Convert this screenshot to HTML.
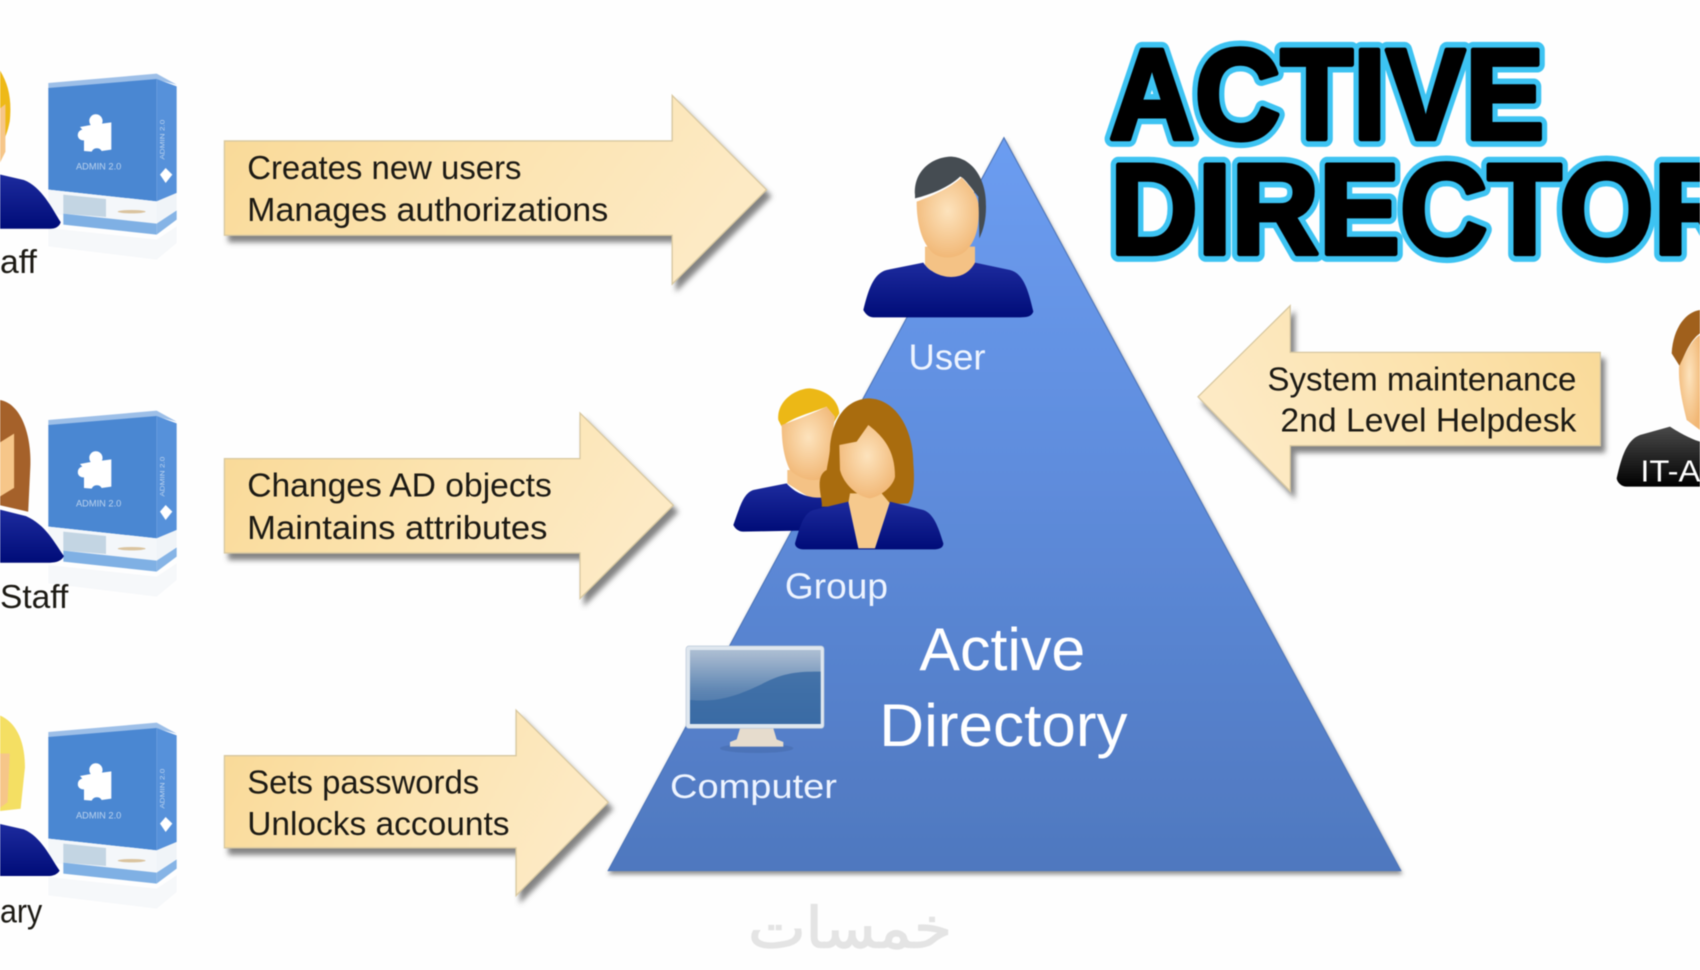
<!DOCTYPE html>
<html><head><meta charset="utf-8"><style>
html,body{margin:0;padding:0;background:#fff;width:1700px;height:970px;overflow:hidden}
svg{display:block;filter:blur(.6px)}
text{font-family:"Liberation Sans",sans-serif}
.t{font-size:31px;fill:#1c1a14}
</style></head><body>
<svg xmlns="http://www.w3.org/2000/svg" width="1700" height="970" viewBox="0 0 1700 970">
<defs>
<linearGradient id="ar" x1="0" y1="0" x2="1" y2="0.25"><stop offset="0" stop-color="#f9d996"/><stop offset=".5" stop-color="#fce3ae"/><stop offset="1" stop-color="#fdeac4"/></linearGradient>
<linearGradient id="ar2" x1="1" y1="0" x2="0" y2="0.25"><stop offset="0" stop-color="#f9d996"/><stop offset=".5" stop-color="#fce3ae"/><stop offset="1" stop-color="#fdeac4"/></linearGradient>
<linearGradient id="tri" x1="0" y1="0" x2="0" y2="1"><stop offset="0" stop-color="#6c9df1"/><stop offset=".45" stop-color="#5f8ddd"/><stop offset="1" stop-color="#4f78bf"/></linearGradient>
<linearGradient id="shirt" x1="0" y1="0" x2="0" y2="1"><stop offset="0" stop-color="#1d2b9e"/><stop offset="1" stop-color="#000c78"/></linearGradient>
<linearGradient id="dark" x1="0" y1="0" x2="0" y2="1"><stop offset="0" stop-color="#4a4a4a"/><stop offset="1" stop-color="#000"/></linearGradient>
<radialGradient id="skin" cx=".5" cy=".42" r=".6"><stop offset="0" stop-color="#fde3bd"/><stop offset="1" stop-color="#f1b775"/></radialGradient>
<linearGradient id="scr" x1="0" y1="0" x2="0" y2="1"><stop offset="0" stop-color="#aebfd3"/><stop offset=".55" stop-color="#5f86b3"/><stop offset="1" stop-color="#3c6ba3"/></linearGradient>
<filter id="sh" x="-10%" y="-10%" width="125%" height="130%"><feDropShadow dx="4" dy="6" stdDeviation="2.5" flood-color="#5c5c5c" flood-opacity=".75"/></filter>
<filter id="sh2" x="-5%" y="-5%" width="110%" height="110%"><feDropShadow dx="1" dy="3" stdDeviation="2" flood-color="#444" flood-opacity=".6"/></filter>
<g id="box">
  <path d="M145,90 L470,62 L530,95 L470,80 L145,108Z" fill="#9dbfe8"/>
  <path d="M145,105 L470,78 L470,445 L145,410Z" fill="#4a87d2"/>
  <path d="M470,78 L530,100 L530,420 L470,445Z" fill="#5691da"/>
  <path d="M145,410 L470,445 L470,512 L145,482Z" fill="#f4f7fa"/>
  <path d="M190,425 L318,438 L318,492 L190,482Z" fill="#c3d5e3"/>
  <path d="M190,482 L470,512 L470,545 L190,515Z" fill="#7fb0e4"/>
  <path d="M470,445 L530,420 L530,470 L470,512Z" fill="#f0f4f8"/>
  <path d="M470,512 L530,472 L530,500 L470,545Z" fill="#86b4e6"/>
  <ellipse cx="395" cy="476" rx="42" ry="5" fill="#c8a060" opacity=".6"/>
  <path d="M145,525 L470,560 L530,520 L530,570 L470,620 L145,580Z" fill="#e4eaf1" opacity=".3"/>
  <path d="M240,222 L272,216 A20,20 0 1 1 306,212 L334,208 L334,290 L305,294 A17,17 0 0 0 275,296 L252,294 L252,262 A15,15 0 1 1 247,230Z" fill="#fff"/>
  <text x="296" y="350" text-anchor="middle" font-size="28" fill="#bcd3ee" textLength="136" lengthAdjust="spacingAndGlyphs">ADMIN 2.0</text>
  <path d="M497,345 L517,365 L497,390 L480,365Z" fill="#fff"/>
  <text x="0" y="0" font-size="20" fill="#bcd3ee" transform="translate(494,320) rotate(-90)" textLength="120" lengthAdjust="spacingAndGlyphs">ADMIN 2.0</text>
</g>
</defs>
<rect width="1700" height="970" fill="#fefefe"/>

<!-- boxes -->
<use href="#box" transform="translate(0,53) scale(.3333)"/>
<use href="#box" transform="translate(0,390) scale(.3333)"/>
<use href="#box" transform="translate(0,702) scale(.3333)"/>

<!-- left persons -->
<g transform="scale(1.08418)">
  <path d="M0,65 C8,78 11,92 9,112 C7,122 4,130 0,134Z" fill="#eeb918"/>
  <path d="M0,100 L5,96 L5,140 L0,150Z" fill="#f6c689"/>
  <path d="M0,161 L22,166 C38,172 48,192 56,205 Q54,211 46,211 L0,211Z" fill="url(#shirt)"/>
  <path d="M0,369 C18,372 29,398 28,430 L26,472 L0,466Z" fill="#a5612a"/>
  <path d="M0,408 L13,400 L13,450 L0,458Z" fill="#f6c689"/>
  <path d="M0,470 L24,476 C42,484 50,500 59,513 Q56,519 46,519 L0,519Z" fill="url(#shirt)"/>
  <path d="M0,660 C14,666 23,682 23,708 L19,746 L0,748Z" fill="#f4df63"/>
  <path d="M0,695 L9,695 L7,740 L0,745Z" fill="#f6c689"/>
  <path d="M0,760 L22,765 C38,772 46,790 55,803 Q52,808 44,808 L0,808Z" fill="url(#shirt)"/>

  <!-- triangle -->
  <path d="M926,127 L1292,803 L561,803Z" fill="url(#tri)" filter="url(#sh2)" stroke="#4d74b8" stroke-width="1"/>

  <!-- arrows -->
  <path d="M207,130 L620,130 L620,88 L707,175 L620,262 L620,217 L207,217Z" fill="url(#ar)" stroke="#d8c8a0" stroke-width="1.2" filter="url(#sh)"/>
  <path d="M207,423 L535,423 L535,381 L621,466 L535,552 L535,510 L207,510Z" fill="url(#ar)" stroke="#d8c8a0" stroke-width="1.2" filter="url(#sh)"/>
  <path d="M207,697 L476,697 L476,655 L561,740 L476,826 L476,782 L207,782Z" fill="url(#ar)" stroke="#d8c8a0" stroke-width="1.2" filter="url(#sh)"/>
  <path d="M1476,325 L1190,325 L1190,282 L1105,366 L1190,453 L1190,411 L1476,411Z" fill="url(#ar2)" stroke="#d8c8a0" stroke-width="1.2" filter="url(#sh)"/>

  <!-- arrow text -->
  <text class="t" x="228" y="165" textLength="253" lengthAdjust="spacingAndGlyphs">Creates new users</text>
  <text class="t" x="228" y="204" textLength="333" lengthAdjust="spacingAndGlyphs">Manages authorizations</text>
  <text class="t" x="228" y="458" textLength="281" lengthAdjust="spacingAndGlyphs">Changes AD objects</text>
  <text class="t" x="228" y="497" textLength="277" lengthAdjust="spacingAndGlyphs">Maintains attributes</text>
  <text class="t" x="228" y="732" textLength="214" lengthAdjust="spacingAndGlyphs">Sets passwords</text>
  <text class="t" x="228" y="770" textLength="242" lengthAdjust="spacingAndGlyphs">Unlocks accounts</text>
  <text class="t" x="1169" y="360" textLength="285" lengthAdjust="spacingAndGlyphs">System maintenance</text>
  <text class="t" x="1181" y="398" textLength="273" lengthAdjust="spacingAndGlyphs">2nd Level Helpdesk</text>

  <!-- side labels -->
  <text class="t" x="0" y="252" textLength="34" lengthAdjust="spacingAndGlyphs">aff</text>
  <text class="t" x="0" y="561" textLength="63" lengthAdjust="spacingAndGlyphs">Staff</text>
  <text class="t" x="0" y="851" textLength="39" lengthAdjust="spacingAndGlyphs">ary</text>

  <!-- triangle labels -->
  <text x="838" y="341" font-size="33" fill="#eef4ff" textLength="71" lengthAdjust="spacingAndGlyphs">User</text>
  <text x="724" y="552" font-size="33" fill="#eef4ff" textLength="95" lengthAdjust="spacingAndGlyphs">Group</text>
  <text x="618" y="736" font-size="32" fill="#eef4ff" textLength="154" lengthAdjust="spacingAndGlyphs">Computer</text>
  <text x="848" y="618" font-size="56" fill="#fff" textLength="153" lengthAdjust="spacingAndGlyphs">Active</text>
  <text x="811" y="688" font-size="56" fill="#fff" textLength="229" lengthAdjust="spacingAndGlyphs">Directory</text>

  <!-- watermark -->
  <text x="784" y="874" text-anchor="middle" font-size="52" fill="#e4e4e4" stroke="#e4e4e4" stroke-width="1.2" textLength="188" lengthAdjust="spacingAndGlyphs" style="font-family:'DejaVu Sans',sans-serif">خمسات</text>

  <!-- title -->
  <g font-weight="700" font-size="119" stroke-linejoin="round">
    <g transform="translate(1023,128) scale(.92,1)">
      <text x="0" y="0" fill="#3dc3f2" stroke="#3dc3f2" stroke-width="15">ACTIVE</text>
      <text x="0" y="0" fill="#000" stroke="#000" stroke-width="4.5">ACTIVE</text>
    </g>
    <g transform="translate(1024,234) scale(.94,1)">
      <text x="0" y="0" fill="#fff" stroke="#3dc3f2" stroke-width="15">DIRECTORY</text>
      <text x="0" y="0" fill="#000" stroke="#000" stroke-width="4.5">DIRECTORY</text>
    </g>
  </g>
</g>

<!-- user + group -->
<g transform="translate(700,130) scale(.33333)">
  <path d="M645,195 C640,120 700,80 755,80 C820,85 860,150 858,230 C858,270 850,300 838,325 L835,200 C810,170 790,140 780,140 C750,170 690,195 645,205Z" fill="#454c52"/>
  <path d="M675,350 L825,350 L825,410 C800,455 720,455 675,405Z" fill="#f4c285"/>
  <path d="M650,215 C690,200 750,175 785,142 C810,170 830,190 835,220 C840,280 830,330 800,360 C775,385 730,390 700,370 C665,340 650,280 650,215Z" fill="url(#skin)"/>
  <path d="M490,540 C505,480 520,430 560,420 L670,398 C700,445 790,465 825,398 L930,420 C970,430 985,480 1000,545 C995,560 980,562 960,562 L520,562 C505,562 495,550 490,540Z" fill="url(#shirt)"/>

  <path d="M262,1020 L350,1020 L390,1100 L340,1110 L262,1060Z" fill="#f4c285"/>
  <path d="M100,1185 C120,1130 130,1090 160,1080 L260,1060 C290,1095 340,1110 390,1100 L400,1200 L130,1205 C115,1205 105,1195 100,1185Z" fill="url(#shirt)"/>
  <path d="M235,870 C230,810 290,775 330,775 C380,780 415,810 418,850 L400,880 L380,830 C330,850 280,860 245,890Z" fill="#ecb816"/>
  <path d="M245,885 C290,870 340,850 380,830 L405,860 L380,1040 C350,1060 300,1050 270,1020 C250,980 245,930 245,885Z" fill="url(#skin)"/>

  <path d="M390,950 C400,850 450,805 510,805 C590,810 640,900 640,1000 C645,1060 640,1100 625,1120 L400,1130 L365,1130 C370,1110 340,1040 380,1020 C385,990 390,970 390,950Z" fill="#a96c0e"/>
  <path d="M450,1090 L545,1090 L570,1120 L525,1255 L475,1255 L445,1120Z" fill="#f6c98d"/>
  <path d="M418,945 L470,935 L505,885 C550,920 585,960 585,1040 C580,1070 540,1100 510,1105 C470,1100 430,1060 420,1020Z" fill="url(#skin)"/>
  <path d="M285,1240 C300,1190 310,1150 340,1140 L445,1115 L475,1255 L525,1255 L570,1115 L670,1140 C700,1150 715,1190 730,1240 C730,1255 715,1258 700,1258 L310,1258 C295,1258 285,1250 285,1240Z" fill="url(#shirt)"/>
</g>

<!-- monitor -->
<g transform="translate(600,620) scale(.33333)">
  <ellipse cx="470" cy="385" rx="110" ry="14" fill="#3d5f9c" opacity=".35"/>
  <path d="M420,325 L520,325 L530,358 L550,366 L550,380 L390,380 L390,366 L410,358Z" fill="#e6dccd"/>
  <rect x="258" y="78" width="414" height="247" rx="9" fill="#dfe7ef" stroke="#b9c7d8" stroke-width="2"/>
  <rect x="270" y="90" width="392" height="222" fill="url(#scr)"/>
  <path d="M270,240 C360,250 430,220 500,185 C560,155 610,155 662,155 L662,312 L270,312Z" fill="#3a6ba5" opacity=".85"/>
</g>

<!-- IT admin -->
<g transform="translate(1180,290) scale(.33333)">
  <path d="M1475,190 C1480,110 1520,65 1560,60 L1560,130 C1530,150 1510,200 1500,230 Z" fill="#a0601c"/>
  <path d="M1497,230 C1515,190 1535,150 1560,135 L1560,420 L1520,390 C1505,330 1495,280 1497,230Z" fill="url(#skin)"/>
  <path d="M1310,565 C1325,500 1340,450 1380,435 L1470,410 C1500,430 1540,450 1560,455 L1560,590 L1340,590 C1325,590 1312,578 1310,565Z" fill="url(#dark)"/>
  <text x="1381" y="575" font-size="92" fill="#fff" textLength="180" lengthAdjust="spacingAndGlyphs">IT-A</text>
</g>
</svg>
</body></html>
